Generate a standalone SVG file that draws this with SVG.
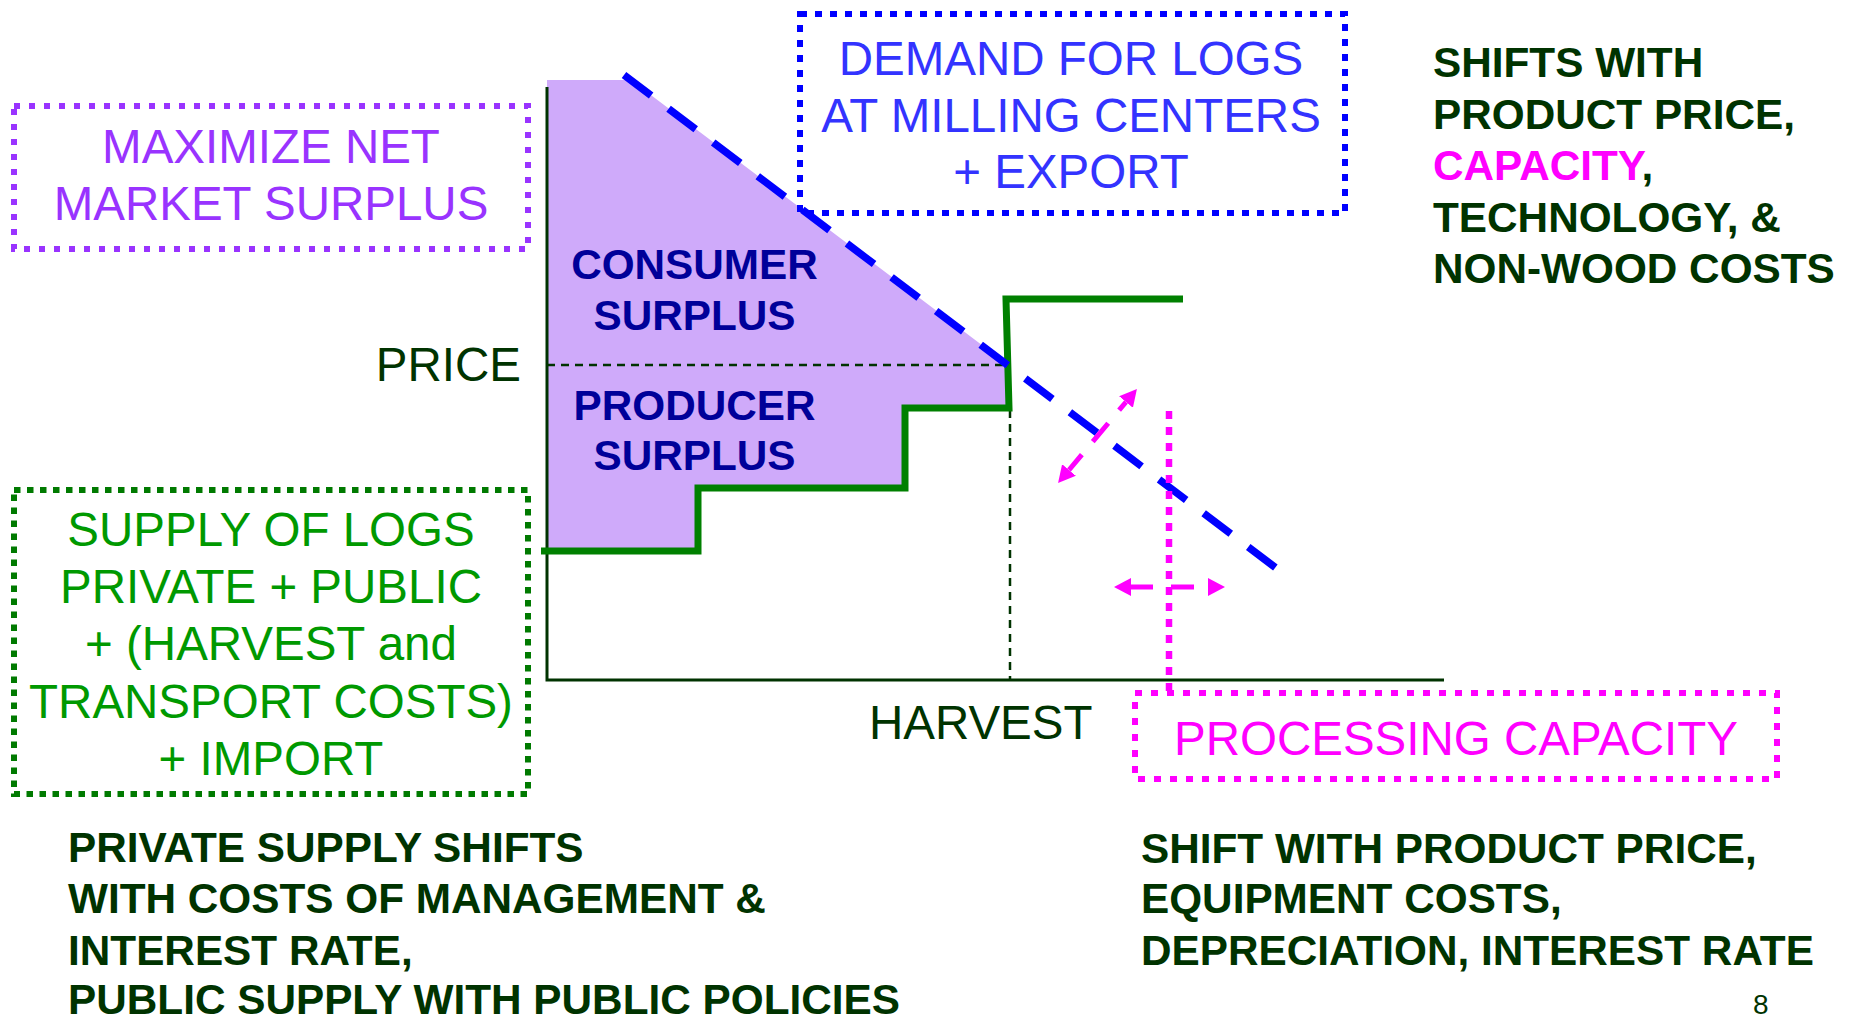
<svg xmlns="http://www.w3.org/2000/svg" width="1853" height="1018" viewBox="0 0 1853 1018">
<defs>
<style>
text{font-family:"Liberation Sans",Arial,Helvetica,sans-serif}
.r47{font-size:47.5px}
.b42{font-size:42.3px;font-weight:bold}
.dg{fill:#003300}
.mid{text-anchor:middle}
.box{fill:none;stroke-width:6;stroke-linecap:butt}
.sur{fill:#000099;font-size:42.3px;font-weight:bold;text-anchor:middle}
.mag{stroke:#FF00FF;stroke-width:5;fill:none}
</style>
<marker id="mh" markerUnits="userSpaceOnUse" viewBox="0 0 17 18" markerWidth="17" markerHeight="18" refX="0" refY="9" orient="auto-start-reverse"><path d="M0,0 L17,9 L0,18 z" fill="#FF00FF"/></marker>
</defs>
<rect width="1853" height="1018" fill="#ffffff"/>

<g id="chart">
  <polygon points="547,80 631,80 1007,364 1007,408 905,408 905,488 698,488 698,551 547,551" fill="#CFAAFA"/>
  <polyline points="547,87 547,680 1444,680" fill="none" stroke="#003300" stroke-width="3"/>
  <line x1="547" y1="365" x2="1007" y2="365" stroke="#003300" stroke-width="2.5" stroke-dasharray="8 6"/>
  <line x1="1010" y1="410" x2="1010" y2="680" stroke="#003300" stroke-width="2.5" stroke-dasharray="8 6"/>
  <polyline id="supply-curve" points="541,551 698,551 698,488 905,488 905,408 1009,408 1006,299 1183,299" fill="none" stroke="#008000" stroke-width="7" stroke-linejoin="miter"/>
  <line id="demand-curve" x1="624" y1="75" x2="1276" y2="568" stroke="#0000FF" stroke-width="7.5" stroke-dasharray="34 21.9"/>
  <text class="sur" x="694.5" y="279">CONSUMER</text>
  <text class="sur" x="694.5" y="330">SURPLUS</text>
  <text class="sur" x="694.5" y="419.5">PRODUCER</text>
  <text class="sur" x="694.5" y="470">SURPLUS</text>
</g>

<g id="label-price"><text class="r47 dg" x="521" y="381" text-anchor="end">PRICE</text></g>
<g id="label-harvest"><text class="r47 dg" x="869" y="739">HARVEST</text></g>

<g id="node-maximize">
  <rect class="box" x="14" y="106" width="514" height="143" stroke="#9933FF" stroke-dasharray="6 9"/>
  <text class="r47 mid" x="271" y="163" fill="#9933FF">MAXIMIZE NET</text>
  <text class="r47 mid" x="271" y="220" fill="#9933FF">MARKET SURPLUS</text>
</g>

<g id="node-demand">
  <rect class="box" x="800" y="14" width="545" height="199" stroke="#0000FF" stroke-dasharray="7 8"/>
  <text class="r47 mid" x="1071" y="75" fill="#3333FF">DEMAND FOR LOGS</text>
  <text class="r47 mid" x="1071" y="131.5" fill="#3333FF">AT MILLING CENTERS</text>
  <text class="r47 mid" x="1071" y="188" fill="#3333FF">+ EXPORT</text>
</g>

<g id="node-demand-shifts">
  <text class="b42 dg" x="1433" y="77">SHIFTS WITH</text>
  <text class="b42 dg" x="1433" y="128.5">PRODUCT PRICE,</text>
  <text class="b42 dg" x="1433" y="180"><tspan fill="#FF00FF">CAPACITY</tspan>,</text>
  <text class="b42 dg" x="1433" y="231.5">TECHNOLOGY, &amp;</text>
  <text class="b42 dg" x="1433" y="283">NON-WOOD COSTS</text>
</g>

<g id="node-supply">
  <rect class="box" x="14" y="490" width="514" height="304" stroke="#007A00" stroke-dasharray="6.5 6.5"/>
  <text class="r47 mid" x="271" y="546" fill="#009900">SUPPLY OF LOGS</text>
  <text class="r47 mid" x="271" y="603" fill="#009900">PRIVATE + PUBLIC</text>
  <text class="r47 mid" x="271" y="660" fill="#009900">+ (HARVEST and</text>
  <text class="r47 mid" x="271" y="718" fill="#009900">TRANSPORT COSTS)</text>
  <text class="r47 mid" x="271" y="775" fill="#009900">+ IMPORT</text>
</g>

<g id="node-processing">
  <rect class="box" x="1135" y="693" width="642" height="86" stroke="#FF00FF" stroke-dasharray="7 9"/>
  <text class="r47 mid" x="1456" y="755" fill="#FF00FF">PROCESSING CAPACITY</text>
</g>

<g id="node-supply-shifts">
  <text class="b42 dg" x="68" y="862">PRIVATE SUPPLY SHIFTS</text>
  <text class="b42 dg" x="68" y="913">WITH COSTS OF MANAGEMENT &amp;</text>
  <text class="b42 dg" x="68" y="965">INTEREST RATE,</text>
  <text class="b42 dg" x="68" y="1014">PUBLIC SUPPLY WITH PUBLIC POLICIES</text>
</g>

<g id="node-capacity-shifts">
  <text class="b42 dg" x="1141" y="863">SHIFT WITH PRODUCT PRICE,</text>
  <text class="b42 dg" x="1141" y="913">EQUIPMENT COSTS,</text>
  <text class="b42 dg" x="1141" y="965">DEPRECIATION, INTEREST RATE</text>
</g>

<g id="page-number"><text class="dg" x="1753" y="1014" font-size="28">8</text></g>

<g id="connectors">
  <line x1="1169" y1="411" x2="1169" y2="693" stroke="#FF00FF" stroke-width="6.5" stroke-dasharray="8 8"/>
  <line class="mag" x1="1131" y1="587" x2="1208" y2="587" stroke-dasharray="22 18 23 14" marker-start="url(#mh)" marker-end="url(#mh)"/>
  <line class="mag" x1="1069" y1="470" x2="1126" y2="402" stroke-dasharray="20 17 24 17 12" marker-start="url(#mh)" marker-end="url(#mh)"/>
</g>
</svg>
